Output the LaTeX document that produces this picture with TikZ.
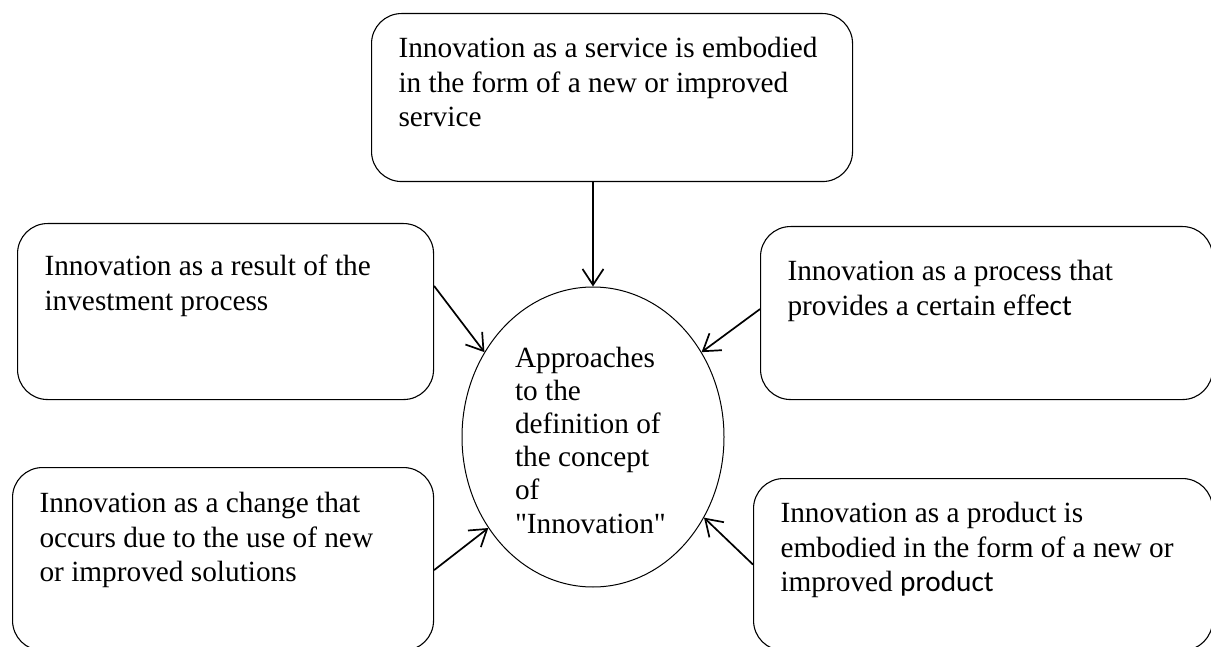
\documentclass[tikz,border=0pt]{standalone}
\usepackage{fontspec}
\setmainfont{Liberation Serif}
\newfontfamily\calibrifont{Carlito}
\usepackage{tikz}
\usetikzlibrary{positioning,shapes.geometric,arrows.meta}
\tikzstyle{approach}=[rectangle, draw=black, line width=1.1pt, rounded corners=30pt,
        anchor=north west, align=flush left, inner xsep=27pt, inner ysep=0pt,
        font=\fontsize{29.3}{34.5}\selectfont]
\tikzstyle{concept}=[ellipse, draw=black, line width=1pt, inner sep=0pt,
        minimum width=262pt, minimum height=300pt, text width=156pt, align=flush left,
        text height=20pt, text depth=160pt, font=\fontsize{29.3}{33.2}\selectfont]
\tikzstyle{link}=[line width=1.7pt, -{Straight Barb[length=16pt,width=21pt,line width=1.7pt]}]

\begin{document}
\begin{tikzpicture}[x=1pt, y=-1pt]
      \useasboundingbox (0,0) rectangle (1211,647);
      % central concept
      \node (Concept) [concept] at (593,437)
      {Approaches\\ to the\\ definition of\\ the concept\\ of\\ \textquotedbl Innovation\textquotedbl};
      % approaches
      \node (Service) [approach, text width=427pt, text height=44pt, text depth=124pt] at (371,13)
      {Innovation as a service is embodied\\ in the form of a new or improved\\ service};
      \node (Result) [approach, text width=362pt, text height=52pt, text depth=124pt] at (17,223)
      {Innovation as a result of the\\ investment process};
      \node (Process) [approach, text width=398pt, text height=54pt, text depth=119pt] at (760,226)
      {Innovation as a process that\\ provides a certain eff{\calibrifont ect}};
      \node (Change) [approach, text width=367pt, text height=45pt, text depth=138pt] at (12,467)
      {Innovation as a change that\\ occurs due to the use of new\\ or improved solutions};
      \node (Product) [approach, text width=405pt, text height=44pt, text depth=128pt] at (753,478)
      {Innovation as a product is\\ embodied in the form of a new or\\ improved {\calibrifont product}};
      % arrows
      \draw [link] (Service.south -| Concept.north) -- (Concept.north);
      \draw [link] (Result.7) -- (Concept.142);
      \draw [link] (Process.179) -- (Concept.38);
      \draw [link] (Change.-3) -- (Concept.221);
      \draw [link] (Product.180) -- (Concept.-36);
    \end{tikzpicture}
\end{document}
